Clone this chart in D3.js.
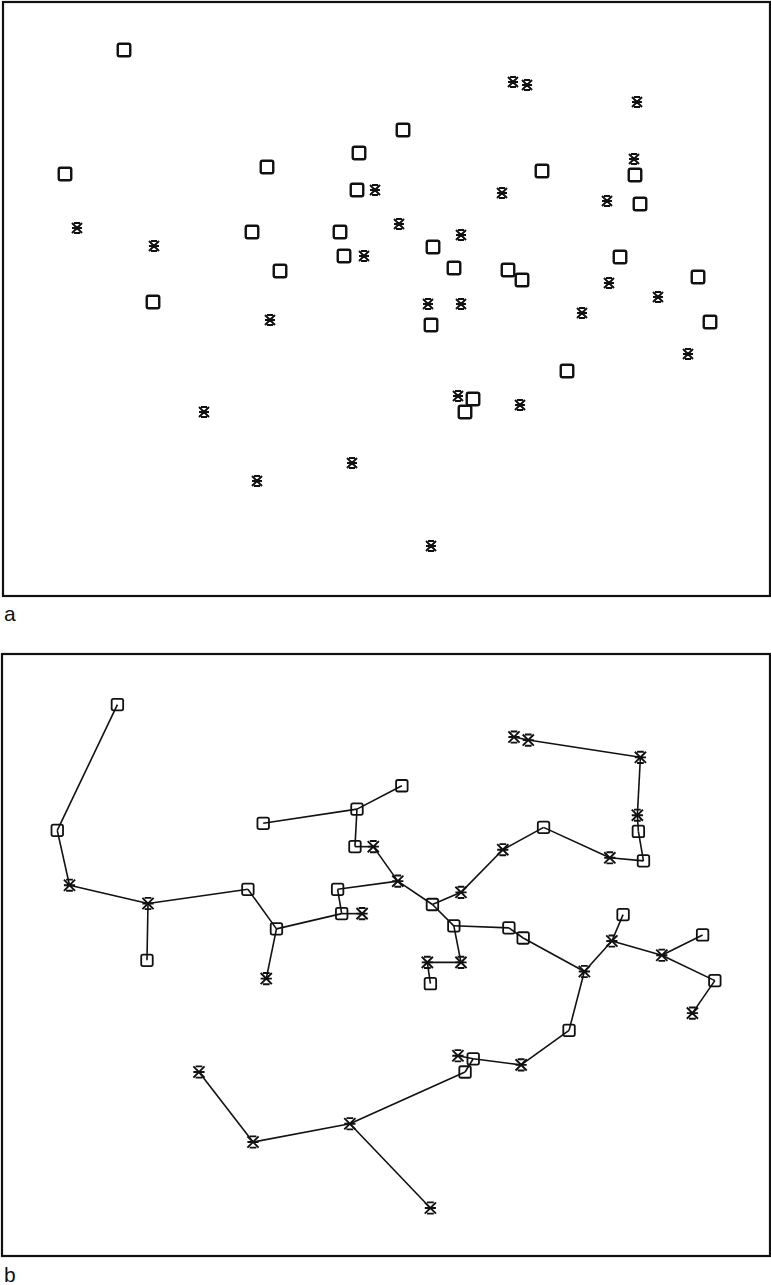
<!DOCTYPE html>
<html>
<head>
<meta charset="utf-8">
<script src="https://cdn.jsdelivr.net/npm/d3@7"></script>
<style>
  html, body { margin: 0; padding: 0; background: #fff; }
  svg { display: block; }
  text { font-family: "Liberation Sans", Arial, sans-serif; fill: #111; }
</style>
</head>
<body>
<svg id="fig" width="771" height="1285"></svg>
<script>
// Ordination scores of the two sample groups (axis 1, axis 2)
const squareX = [-2.61, -3.20, -1.18, -1.33, -1.05, -2.32, -0.26, -0.28, -0.45, -0.41,
                  0.18,  1.57,  2.50,  2.55,  0.48,  0.69,  1.23,  1.37,  2.35,  3.13,
                  3.25,  0.46,  1.82,  0.88,  0.80];
const squareY = [ 2.50,  1.26,  1.33,  0.68,  0.29, -0.02,  1.47,  1.10,  0.68,  0.44,
                  1.70,  1.29,  1.25,  0.96,  0.53,  0.32,  0.30,  0.20,  0.43,  0.23,
                 -0.22, -0.25, -0.71, -0.99, -1.12];
const starX = [-3.08, -2.31, -1.15, -1.81, -1.28, -0.33, -0.10, -0.21,  0.14,  1.28,
                1.42,  2.52,  2.49,  1.17,  2.22,  0.76,  2.24,  2.73,  0.43,  0.76,
                1.97,  3.03,  0.73,  1.35,  0.46];
const starY = [ 0.72,  0.54, -0.20, -1.12, -1.81, -1.63,  1.10,  0.44,  0.76,  2.18,
                2.15,  1.98,  1.41,  1.07,  0.99,  0.65,  0.17,  0.03, -0.04, -0.04,
               -0.13, -0.54, -0.96, -1.05, -2.46];

// Minimum spanning tree links (S = square sample, A = asterisk sample)
const treeEdges = [
  ["S1","S2"], ["S2","A1"], ["A1","A2"], ["A2","S6"], ["A2","S4"], ["S4","S5"],
  ["S5","A3"], ["S5","S10"], ["S10","S9"], ["S10","A8"], ["S9","A9"], ["A9","A7"],
  ["A7","S8"], ["S8","S7"], ["S7","S3"], ["S7","S11"], ["A9","S15"], ["S15","A16"],
  ["A16","A14"], ["A14","S12"], ["S12","A15"], ["A15","S14"], ["S14","S13"], ["S13","A13"],
  ["A13","A12"], ["A12","A11"], ["A11","A10"], ["S15","S16"], ["S16","S17"], ["S17","S18"],
  ["S18","A21"], ["S16","A20"], ["A20","A19"], ["A19","S22"], ["A21","A17"], ["A17","S19"],
  ["A17","A18"], ["A18","S20"], ["A18","S21"], ["S21","A22"], ["A21","S23"], ["S23","A24"],
  ["A24","S24"], ["S24","A23"], ["S24","S25"], ["S25","A6"], ["A6","A5"], ["A5","A4"],
  ["A6","A25"]
];

const panelLabels = ["a", "b"];

const points = [
  ...squareX.map((x, i) => ({ id: "S" + (i + 1), kind: "square", x, y: squareY[i] })),
  ...starX.map((x, i) => ({ id: "A" + (i + 1), kind: "star", x, y: starY[i] }))
];
const byId = new Map(points.map(p => [p.id, p]));

const svg = d3.select("#fig");
const ink = "#111";

// Panel geometry: a = raw scatter, b = same samples joined by the spanning tree
const panels = [
  { label: panelLabels[0], frame: { x: 3, y: 2, w: 767, h: 594 },
    xs: d3.scaleLinear().domain([-3.85, 3.85]).range([0, 770]),
    ys: d3.scaleLinear().domain([3, -3]).range([0, 600]),
    tree: false, sq: 12.5, sqStroke: 2.4, star: 5, starStroke: 2, labelY: 621 },
  { label: panelLabels[1], frame: { x: 2, y: 654, w: 768, h: 602 },
    xs: d3.scaleLinear().domain([-3.85, 3.85]).range([-9, 776]),
    ys: d3.scaleLinear().domain([3, -3]).range([653.8, 1262.8]),
    tree: true, sq: 11.5, sqStroke: 1.8, star: 5.6, starStroke: 1.9, labelY: 1282 }
];

// Plotter-style asterisk: crossed diagonals, a middle bar and short end bars
function starPath(r) {
  const c = r * 0.6;
  return `M${-r},${-r}L${r},${r}M${-r},${r}L${r},${-r}M${-r},0L${r},0` +
         `M${-c},${-r}L${c},${-r}M${-c},${r}L${c},${r}`;
}

panels.forEach(p => {
  const g = svg.append("g");

  g.append("rect")
    .attr("x", p.frame.x).attr("y", p.frame.y)
    .attr("width", p.frame.w).attr("height", p.frame.h)
    .attr("fill", "none").attr("stroke", ink).attr("stroke-width", 2.2);

  if (p.tree) {
    g.append("g").selectAll("line")
      .data(treeEdges)
      .join("line")
      .attr("x1", d => p.xs(byId.get(d[0]).x))
      .attr("y1", d => p.ys(byId.get(d[0]).y))
      .attr("x2", d => p.xs(byId.get(d[1]).x))
      .attr("y2", d => p.ys(byId.get(d[1]).y))
      .attr("stroke", ink).attr("stroke-width", 1.6);
  }

  g.append("g").selectAll("rect")
    .data(points.filter(d => d.kind === "square"))
    .join("rect")
    .attr("x", d => p.xs(d.x) - p.sq / 2)
    .attr("y", d => p.ys(d.y) - p.sq / 2)
    .attr("width", p.sq).attr("height", p.sq)
    .attr("rx", 1.8)
    .attr("fill", p.tree ? "none" : "#fff")
    .attr("stroke", ink).attr("stroke-width", p.sqStroke);

  g.append("g").selectAll("path")
    .data(points.filter(d => d.kind === "star"))
    .join("path")
    .attr("transform", d => `translate(${p.xs(d.x)},${p.ys(d.y)})`)
    .attr("d", starPath(p.star))
    .attr("fill", "none")
    .attr("stroke", ink).attr("stroke-width", p.starStroke);

  svg.append("text")
    .attr("x", 4).attr("y", p.labelY)
    .attr("font-size", 21)
    .text(p.label);
});
</script>
</body>
</html>
